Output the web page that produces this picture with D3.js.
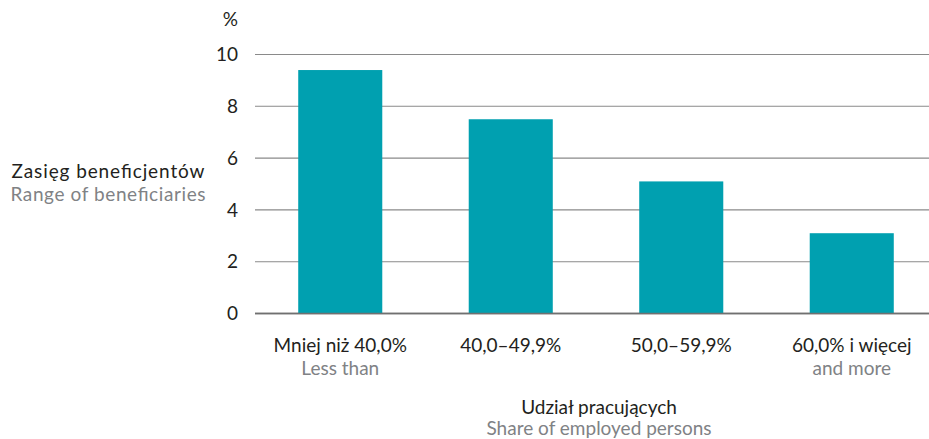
<!DOCTYPE html>
<html><head><meta charset="utf-8">
<script src="https://cdn.jsdelivr.net/npm/d3@7"></script>
<style>body{margin:0;background:#fff}svg{display:block}text{font-family:Lato,"Open Sans",sans-serif}</style>
</head><body><svg id="c" width="929" height="439"></svg>
<script>
const categories = ["Mniej niż 40,0%", "40,0–49,9%", "50,0–59,9%", "60,0% i więcej"];
const categoriesEn = ["Less than", "", "", "and more"];
const values = [9.4, 7.5, 5.1, 3.1];
const yTicks = [0, 2, 4, 6, 8, 10];
const yTitle = ["Zasięg beneficjentów", "Range of beneficiaries"];
const xTitle = ["Udział pracujących", "Share of employed persons"];
const unit = "%";

const svg = d3.select("#c");
const x = d3.scaleBand().domain(categories).range([255, 937]).paddingInner(0.507).paddingOuter(0.2535);
const y = d3.scaleLinear().domain([0, 10]).range([313.5, 54.5]);

// gridlines
svg.append("g").selectAll("line").data(yTicks).join("line")
  .attr("x1", 255).attr("x2", 929)
  .attr("y1", d => y(d)).attr("y2", d => y(d))
  .attr("stroke", d => d === 0 ? "#707070" : "#8a8a8a")
  .attr("stroke-width", d => d === 0 ? 1.6 : 1.1);

// bars
svg.append("g").selectAll("rect").data(values).join("rect")
  .attr("x", (d, i) => x(categories[i]))
  .attr("width", x.bandwidth())
  .attr("y", d => y(d))
  .attr("height", d => y(0) - y(d))
  .attr("fill", "#00a0b0");

// zero line on top
svg.append("line").attr("x1", 255).attr("x2", 929).attr("y1", y(0)).attr("y2", y(0))
  .attr("stroke", "#707070").attr("stroke-width", 1.6);

// y tick labels
svg.append("g").selectAll("text").data(yTicks).join("text")
  .attr("x", 238).attr("y", d => y(d)).attr("dy", "0.35em")
  .attr("text-anchor", "end").attr("font-size", 19).attr("fill", "#231f20")
  .text(d => d);
svg.append("text").attr("x", 238).attr("y", 26).attr("text-anchor", "end")
  .attr("font-size", 19).attr("fill", "#231f20").text(unit);

const fs = 19;
// y title
svg.append("text").attr("x", 108).attr("y", 178).attr("text-anchor", "middle")
  .attr("font-size", fs).attr("fill", "#231f20").attr("textLength", 193).text(yTitle[0]);
svg.append("text").attr("x", 108).attr("y", 201).attr("text-anchor", "middle")
  .attr("font-size", fs).attr("fill", "#808285").attr("textLength", 195).text(yTitle[1]);

// x category labels
const cx = c => x(c) + x.bandwidth() / 2;
svg.append("g").selectAll("text").data(categories).join("text")
  .attr("x", d => cx(d)).attr("y", 352).attr("text-anchor", "middle")
  .attr("font-size", fs).attr("fill", "#231f20").text(d => d);
svg.append("g").selectAll("text").data(categoriesEn).join("text")
  .attr("x", (d, i) => cx(categories[i])).attr("y", 375).attr("text-anchor", "middle")
  .attr("font-size", fs).attr("fill", "#808285").text(d => d);

// x title
svg.append("text").attr("x", 599).attr("y", 414).attr("text-anchor", "middle")
  .attr("font-size", fs).attr("fill", "#231f20").text(xTitle[0]);
svg.append("text").attr("x", 599).attr("y", 435).attr("text-anchor", "middle")
  .attr("font-size", fs).attr("fill", "#808285").text(xTitle[1]);
</script></body></html>
